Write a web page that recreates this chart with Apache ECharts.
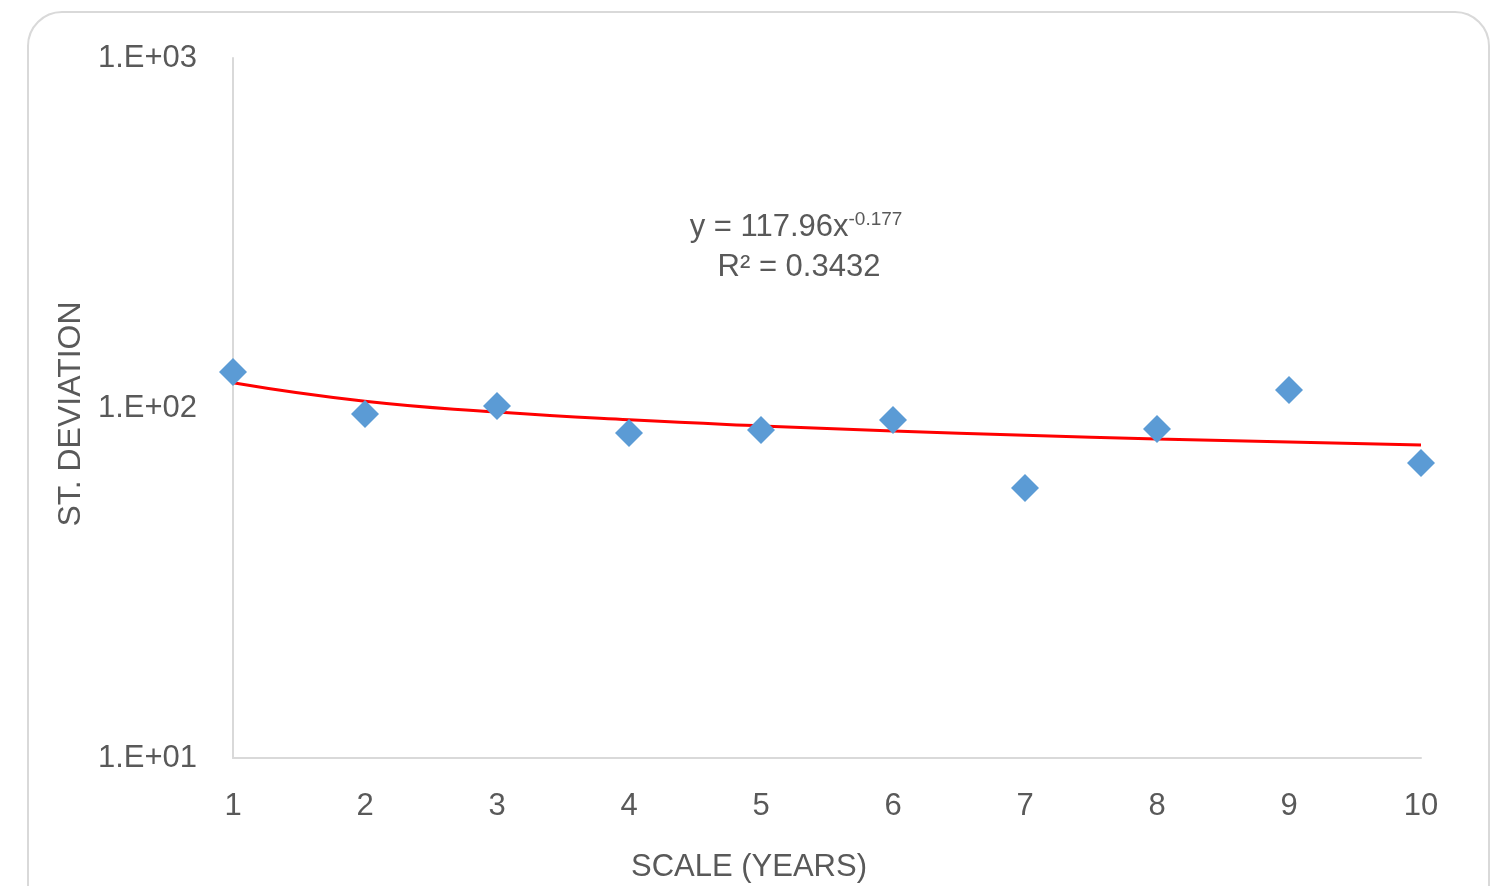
<!DOCTYPE html>
<html>
<head>
<meta charset="utf-8">
<script src="https://cdn.jsdelivr.net/npm/echarts@6/dist/echarts.min.js"></script>
<style>
html,body{margin:0;padding:0;background:#fff;}
#chart{width:1494px;height:886px;}
</style>
</head>
<body>
<div id="chart"></div>
<script>
// Scale (years)
const scaleYears = [1, 2, 3, 4, 5, 6, 7, 8, 9, 10];
// Standard deviation
const stDeviation = [126.7, 96.1, 101.3, 84.8, 86.5, 92.4, 59.1, 87.1, 112.6, 69.6];
// Power trendline values at each scale
const trendValues = [118.0, 104.5, 97.4, 92.5, 88.9, 86.0, 83.6, 81.6, 79.9, 78.4];
const yTicks = [10, 100, 1000];
const xTitle = 'SCALE (YEARS)';
const yTitle = 'ST. DEVIATION';
const eqLine1 = 'y = 117.96x';
const eqExp = '-0.177';
const eqLine2 = 'R² = 0.3432';

const FONT = 'Liberation Sans';
const TXT = '#595959';

const chart = echarts.init(document.getElementById('chart'), null, {renderer: 'canvas'});

function fmtLog(v) {
  const e = Math.round(Math.log10(v));
  return '1.E+' + String(e).padStart(2, '0');
}

chart.setOption({
  animation: false,
  backgroundColor: '#fff',
  grid: {left: 233, right: 73, top: 58, bottom: 128, containLabel: false},
  xAxis: {
    type: 'value', min: 1, max: 10, interval: 1,
    axisLine: {show: true, lineStyle: {color: '#d9d9d9', width: 2}},
    axisTick: {show: false},
    splitLine: {show: false},
    axisLabel: {fontFamily: FONT, fontSize: 31, color: TXT, margin: 33}
  },
  yAxis: {
    type: 'log', logBase: 10, min: yTicks[0], max: yTicks[yTicks.length - 1],
    axisLine: {show: true, lineStyle: {color: '#d9d9d9', width: 2}},
    axisTick: {show: false},
    splitLine: {show: false},
    minorTick: {show: false},
    axisLabel: {fontFamily: FONT, fontSize: 31, color: TXT, margin: 36, formatter: fmtLog}
  },
  series: [
    {
      type: 'line',
      data: scaleYears.map((x, i) => [x, trendValues[i]]),
      smooth: true,
      showSymbol: false,
      symbol: 'none',
      lineStyle: {color: '#ff0000', width: 3},
      z: 2
    },
    {
      type: 'scatter',
      data: scaleYears.map((x, i) => [x, stDeviation[i]]),
      symbol: 'diamond',
      symbolSize: [28, 28],
      itemStyle: {color: '#5b9bd5', opacity: 1},
      z: 3
    }
  ],
  graphic: [
    {
      type: 'rect',
      shape: {x: 28, y: 12, width: 1461, height: 920, r: 34},
      style: {fill: 'none', stroke: '#d9d9d9', lineWidth: 2},
      silent: true
    },
    {
      type: 'text',
      x: 749, y: 867,
      style: {text: xTitle, align: 'center', verticalAlign: 'middle', font: '31px "' + FONT + '"', fill: TXT}
    },
    {
      type: 'text',
      x: 71, y: 414, rotation: Math.PI / 2,
      style: {text: yTitle, align: 'center', verticalAlign: 'middle', font: '32px "' + FONT + '"', fill: TXT}
    },
    {
      type: 'text',
      x: 796, y: 227,
      style: {
        text: '{m|' + eqLine1 + '}{s|' + eqExp + '}',
        align: 'center', verticalAlign: 'middle',
        rich: {
          m: {fontFamily: FONT, fontSize: 31, fill: TXT, color: TXT},
          s: {fontFamily: FONT, fontSize: 19, fill: TXT, color: TXT, verticalAlign: 'top', padding: [0, 0, 14, 0]}
        }
      }
    },
    {
      type: 'text',
      x: 799, y: 267,
      style: {
        text: eqLine2, align: 'center', verticalAlign: 'middle',
        font: '31px "' + FONT + '"', fill: TXT
      }
    }
  ]
});
</script>
</body>
</html>
